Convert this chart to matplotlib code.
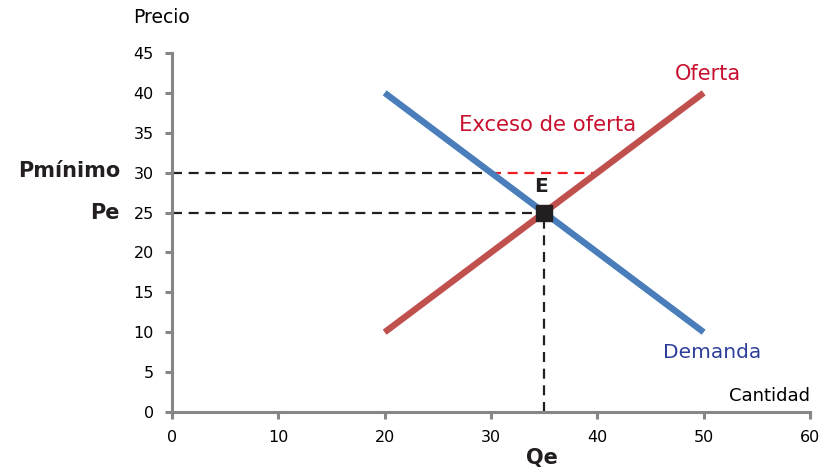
import matplotlib
matplotlib.use("Agg")
import matplotlib.pyplot as plt

# Market data
demand_q = [20, 50]
demand_p = [40, 10]
supply_q = [20, 50]
supply_p = [10, 40]
q_eq, p_eq = 35, 25
p_min = 30
q_demand_at_pmin = 30
q_supply_at_pmin = 40

x_ticks = [0, 10, 20, 30, 40, 50, 60]
y_ticks = [0, 5, 10, 15, 20, 25, 30, 35, 40, 45]

axis_grey = "#868686"
blue = "#4a7ebb"
red = "#c0504d"

plt.rcParams["font.family"] = ["DejaVu Sans"]

fig = plt.figure(figsize=(8.25, 4.72), dpi=100)
ax = fig.add_axes([172 / 825, 60 / 472, (810 - 172) / 825, (412 - 53) / 472])

# Guide lines
dash = (0, (4.5, 3))
ax.plot([0, q_demand_at_pmin], [p_min, p_min], ls=dash, color="#231f20", lw=1.6, zorder=2)
ax.plot([q_demand_at_pmin, q_supply_at_pmin], [p_min, p_min], ls=dash, color="#ee1c25", lw=1.6, zorder=2)
ax.plot([0, q_eq], [p_eq, p_eq], ls=dash, color="#231f20", lw=1.6, zorder=2)
ax.plot([q_eq, q_eq], [0, p_eq], ls=dash, color="#231f20", lw=1.6, zorder=2)

# Curves
ax.plot(demand_q, demand_p, color=blue, lw=4.6, solid_capstyle="butt", zorder=3)
ax.plot(supply_q, supply_p, color=red, lw=4.6, solid_capstyle="butt", zorder=3)
ax.plot([q_eq], [p_eq], marker="s", ms=11.5, color="#231f20", zorder=4)

ax.set_xlim(0, 60)
ax.set_ylim(0, 45)
ax.set_xticks(x_ticks)
ax.set_yticks(y_ticks)
for s in ["top", "right"]:
    ax.spines[s].set_visible(False)
for s in ["left", "bottom"]:
    ax.spines[s].set_color(axis_grey)
    ax.spines[s].set_linewidth(2.2)
ax.tick_params(direction="out", length=5, width=2.2, color=axis_grey,
               labelsize=11.5, labelcolor="#000000")
ax.tick_params(axis="y", pad=8)
ax.tick_params(axis="x", pad=8)

# Labels
ax.text(-3.7, 49.4, "Precio", fontsize=13.5, ha="left", va="center", clip_on=False)
ax.text(60, 2.0, "Cantidad", fontsize=13, ha="right", va="center", clip_on=False)
ax.text(50.4, 42.4, "Oferta", fontsize=15, color="#c8102e", ha="center", va="center")
ax.text(35.3, 36.0, "Exceso de oferta", fontsize=15.2, color="#c8102e", ha="center", va="center")
ax.text(50.8, 7.4, "Demanda", fontsize=14.5, color="#2e3f9b", ha="center", va="center")
ax.text(34.7, 28.3, "E", fontsize=14.5, fontweight="bold", color="#231f20", ha="center", va="center")
ax.text(-4.9, 30.2, "Pmínimo", fontsize=15, fontweight="bold", color="#231f20",
        ha="right", va="center", clip_on=False)
ax.text(-4.9, 25.0, "Pe", fontsize=15, fontweight="bold", color="#231f20",
        ha="right", va="center", clip_on=False)
ax.text(34.8, -5.8, "Qe", fontsize=15, fontweight="bold", color="#231f20",
        ha="center", va="center", clip_on=False)

fig.savefig("out.png", dpi=100)
